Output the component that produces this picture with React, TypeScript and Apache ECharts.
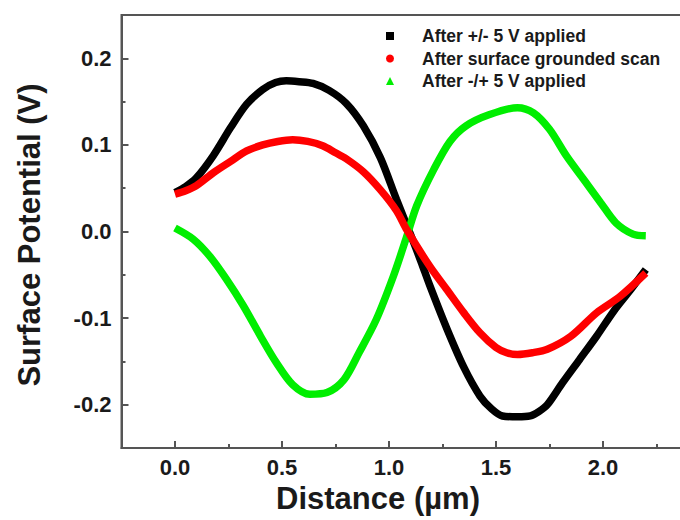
import React, { useEffect, useRef } from "react";
import * as echarts from "echarts";

const FONT = '"Liberation Sans", Arial, Helvetica, sans-serif';

const X_MAJOR = [0, 0.5, 1.0, 1.5, 2.0];
const X_MINOR = [0.25, 0.75, 1.25, 1.75, 2.25];
const Y_MAJOR = [-0.2, -0.1, 0.0, 0.1, 0.2];
const Y_MINOR = [-0.15, -0.05, 0.05, 0.15];

const SERIES_NAMES = [
  "After +/- 5 V applied",
  "After surface grounded scan",
  "After -/+ 5 V applied",
];

// [distance (µm), surface potential (V)]
const afterPlusMinus = [
  [0.0, 0.045], [0.05, 0.052], [0.1, 0.062], [0.18, 0.088], [0.26, 0.12],
  [0.335, 0.147], [0.41, 0.164], [0.47, 0.172], [0.52, 0.174], [0.58, 0.173],
  [0.645, 0.171], [0.72, 0.163], [0.8, 0.148], [0.88, 0.122], [0.96, 0.085],
  [1.035, 0.037], [1.1, -0.003], [1.15, -0.035], [1.19, -0.062], [1.27, -0.112],
  [1.35, -0.157], [1.425, -0.19], [1.48, -0.205], [1.53, -0.213], [1.6, -0.214],
  [1.66, -0.213], [1.7, -0.208], [1.74, -0.2], [1.81, -0.175], [1.89, -0.148],
  [1.97, -0.121], [2.05, -0.092], [2.13, -0.067], [2.2, -0.044],
];

const afterGrounded = [
  [0.0, 0.043], [0.05, 0.047], [0.1, 0.053], [0.18, 0.068], [0.26, 0.081],
  [0.335, 0.093], [0.41, 0.1], [0.48, 0.104], [0.55, 0.106], [0.62, 0.104],
  [0.69, 0.099], [0.75, 0.091], [0.8, 0.084], [0.88, 0.069], [0.96, 0.048],
  [1.035, 0.024], [1.083, 0.002], [1.19, -0.04], [1.27, -0.067], [1.35, -0.094],
  [1.425, -0.117], [1.5, -0.134], [1.55, -0.14], [1.6, -0.142], [1.67, -0.14],
  [1.74, -0.136], [1.85, -0.121], [1.97, -0.094], [2.08, -0.075], [2.2, -0.048],
];

const afterMinusPlus = [
  [0.0, 0.004], [0.086, -0.009], [0.164, -0.029], [0.24, -0.055], [0.32, -0.086],
  [0.4, -0.121], [0.475, -0.152], [0.55, -0.177], [0.63, -0.188], [0.71, -0.186],
  [0.79, -0.171], [0.86, -0.14], [0.94, -0.102], [1.02, -0.052], [1.08, -0.008],
  [1.13, 0.03], [1.21, 0.072], [1.285, 0.104], [1.36, 0.122], [1.47, 0.135],
  [1.6, 0.143], [1.675, 0.137], [1.75, 0.118], [1.83, 0.087], [1.91, 0.06],
  [1.99, 0.033], [2.06, 0.01], [2.14, -0.003], [2.2, -0.005],
];

const COLORS = ["#000000", "#ff0000", "#00ee00"];
const ICONS = ["rect", "circle", "triangle"];
const AXIS_COLOR = "#555555";

export default function App() {
  const ref = useRef<HTMLDivElement>(null);

  useEffect(() => {
    if (!ref.current) return;
    const chart = echarts.init(ref.current, null, { renderer: "svg" });

    const tickLabel = {
      fontSize: 22,
      fontWeight: "bold",
      color: "#1a1a1a",
      fontFamily: FONT,
    };

    const mkSeries = (name: string, data: number[][], color: string, z: number) => ({
      name,
      type: "line",
      data,
      xAxisIndex: 0,
      yAxisIndex: 0,
      smooth: 0.3,
      showSymbol: false,
      symbol: "none",
      lineStyle: { color, width: 7.5 },
      itemStyle: { color },
      z,
    });

    chart.setOption({
      animation: false,
      backgroundColor: "#ffffff",
      grid: {
        left: 121.5,
        top: 15,
        width: 588.5,
        height: 433,
        show: true,
        borderColor: AXIS_COLOR,
        borderWidth: 2,
        backgroundColor: "transparent",
      },
      legend: {
        orient: "vertical",
        left: 381,
        top: 22,
        itemWidth: 8,
        itemHeight: 8,
        itemGap: 4.5,
        data: SERIES_NAMES.map((n, i) => ({ name: n, icon: ICONS[i] })),
        textStyle: {
          fontSize: 17.5,
          fontWeight: "bold",
          color: "#1a1a1a",
          fontFamily: FONT,
          lineHeight: 18,
          padding: [0, 0, 0, 23],
        },
      },
      xAxis: [
        {
          type: "value",
          min: -0.25,
          max: 2.5,
          position: "bottom",
          axisLine: { show: true, onZero: false, lineStyle: { color: AXIS_COLOR, width: 2 } },
          axisTick: {
            show: true,
            inside: true,
            length: 7,
            customValues: X_MAJOR,
            lineStyle: { color: AXIS_COLOR, width: 2 },
          },
          axisLabel: {
            ...tickLabel,
            customValues: X_MAJOR,
            margin: 8,
            formatter: (v: number) => v.toFixed(1),
          },
          splitLine: { show: false },
        },
        {
          type: "value",
          min: -0.25,
          max: 2.5,
          position: "bottom",
          axisLine: { show: false, onZero: false },
          axisTick: {
            show: true,
            inside: true,
            length: 4,
            customValues: X_MINOR,
            lineStyle: { color: AXIS_COLOR, width: 2 },
          },
          axisLabel: { show: false },
          splitLine: { show: false },
        },
      ],
      yAxis: [
        {
          type: "value",
          min: -0.25,
          max: 0.25,
          position: "left",
          axisLine: { show: true, onZero: false, lineStyle: { color: AXIS_COLOR, width: 2 } },
          axisTick: {
            show: true,
            inside: true,
            length: 7,
            customValues: Y_MAJOR,
            lineStyle: { color: AXIS_COLOR, width: 2 },
          },
          axisLabel: {
            ...tickLabel,
            customValues: Y_MAJOR,
            margin: 10,
            formatter: (v: number) => v.toFixed(1),
          },
          splitLine: { show: false },
        },
        {
          type: "value",
          min: -0.25,
          max: 0.25,
          position: "left",
          axisLine: { show: false, onZero: false },
          axisTick: {
            show: true,
            inside: true,
            length: 4,
            customValues: Y_MINOR,
            lineStyle: { color: AXIS_COLOR, width: 2 },
          },
          axisLabel: { show: false },
          splitLine: { show: false },
        },
      ],
      graphic: [
        {
          type: "text",
          x: 378,
          y: 498,
          style: {
            text: "Distance (\u00b5m)",
            fontSize: 31,
            fontWeight: "bold",
            fontFamily: FONT,
            fill: "#1a1a1a",
            align: "center",
            verticalAlign: "middle",
          },
        },
        {
          type: "text",
          x: 29,
          y: 235,
          rotation: Math.PI / 2,
          style: {
            text: "Surface Potential (V)",
            fontSize: 31,
            fontWeight: "bold",
            fontFamily: FONT,
            fill: "#1a1a1a",
            align: "center",
            verticalAlign: "middle",
          },
        },
      ],
      series: [
        mkSeries(SERIES_NAMES[0], afterPlusMinus, COLORS[0], 2),
        mkSeries(SERIES_NAMES[2], afterMinusPlus, COLORS[2], 2),
        mkSeries(SERIES_NAMES[1], afterGrounded, COLORS[1], 3),
      ],
    });

    return () => chart.dispose();
  }, []);

  return (
    <div
      style={{
        position: "fixed",
        left: 0,
        top: 0,
        width: 680,
        height: 520,
        overflow: "hidden",
        background: "#fff",
      }}
    >
      <div ref={ref} style={{ width: 720, height: 520 }} />
    </div>
  );
}
